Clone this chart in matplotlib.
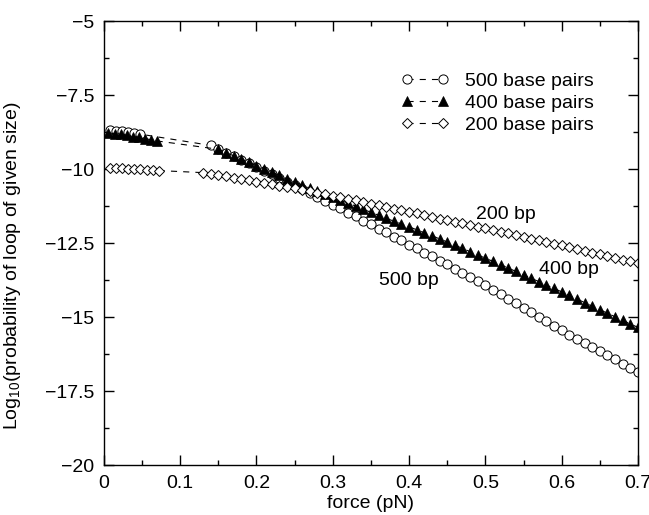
import matplotlib
matplotlib.use("Agg")
import matplotlib.pyplot as plt
from matplotlib.ticker import FixedLocator, MultipleLocator, FixedFormatter

plt.rcParams["font.family"] = ["Liberation Sans", "DejaVu Sans"]
plt.rcParams["mathtext.default"] = "regular"

# Force values (pN) and log10 loop probabilities for each loop size
force_500 = [0.008, 0.016, 0.024, 0.032, 0.040, 0.048,
             0.14, 0.15, 0.16, 0.17, 0.18, 0.19, 0.20, 0.21, 0.22, 0.23,
             0.24, 0.25, 0.26, 0.27, 0.28, 0.29, 0.30, 0.31, 0.32, 0.33,
             0.34, 0.35, 0.36, 0.37, 0.38, 0.39, 0.40, 0.41, 0.42, 0.43,
             0.44, 0.45, 0.46, 0.47, 0.48, 0.49, 0.50, 0.51, 0.52, 0.53,
             0.54, 0.55, 0.56, 0.57, 0.58, 0.59, 0.60, 0.61, 0.62, 0.63,
             0.64, 0.65, 0.66, 0.67, 0.68, 0.69, 0.70]
logp_500 = [-8.68, -8.70, -8.72, -8.75, -8.78, -8.82,
            -9.20, -9.32, -9.44, -9.56, -9.68, -9.80, -9.93, -10.05, -10.18, -10.30,
            -10.43, -10.55, -10.68, -10.81, -10.94, -11.07, -11.20, -11.33, -11.47, -11.60,
            -11.74, -11.87, -12.01, -12.14, -12.28, -12.41, -12.55, -12.68, -12.82, -12.95,
            -13.09, -13.22, -13.36, -13.50, -13.65, -13.79, -13.93, -14.08, -14.23, -14.38,
            -14.53, -14.68, -14.83, -14.99, -15.14, -15.30, -15.45, -15.59, -15.73, -15.87,
            -16.01, -16.15, -16.29, -16.43, -16.57, -16.71, -16.85]

force_400 = [0.006, 0.014, 0.022, 0.030, 0.038, 0.046, 0.054, 0.062, 0.070,
             0.15, 0.16, 0.17, 0.18, 0.19, 0.20, 0.21, 0.22, 0.23,
             0.24, 0.25, 0.26, 0.27, 0.28, 0.29, 0.30, 0.31, 0.32, 0.33,
             0.34, 0.35, 0.36, 0.37, 0.38, 0.39, 0.40, 0.41, 0.42, 0.43,
             0.44, 0.45, 0.46, 0.47, 0.48, 0.49, 0.50, 0.51, 0.52, 0.53,
             0.54, 0.55, 0.56, 0.57, 0.58, 0.59, 0.60, 0.61, 0.62, 0.63,
             0.64, 0.65, 0.66, 0.67, 0.68, 0.69, 0.70]
logp_400 = [-8.78, -8.80, -8.83, -8.86, -8.90, -8.93, -8.97, -9.01, -9.05,
            -9.33, -9.44, -9.55, -9.66, -9.77, -9.88, -9.99, -10.10, -10.21,
            -10.33, -10.44, -10.54, -10.65, -10.75, -10.85, -10.95, -11.05, -11.15, -11.25,
            -11.36, -11.46, -11.56, -11.66, -11.76, -11.85, -11.95, -12.05, -12.15, -12.25,
            -12.36, -12.46, -12.57, -12.68, -12.79, -12.90, -13.01, -13.12, -13.23, -13.34,
            -13.46, -13.57, -13.69, -13.80, -13.92, -14.03, -14.15, -14.27, -14.39, -14.51,
            -14.63, -14.75, -14.87, -14.99, -15.11, -15.23, -15.35]

force_200 = [0.008, 0.016, 0.024, 0.032, 0.040, 0.048, 0.056, 0.064, 0.072,
             0.13, 0.14, 0.15, 0.16, 0.17, 0.18, 0.19, 0.20, 0.21, 0.22, 0.23,
             0.24, 0.25, 0.26, 0.27, 0.28, 0.29, 0.30, 0.31, 0.32, 0.33,
             0.34, 0.35, 0.36, 0.37, 0.38, 0.39, 0.40, 0.41, 0.42, 0.43,
             0.44, 0.45, 0.46, 0.47, 0.48, 0.49, 0.50, 0.51, 0.52, 0.53,
             0.54, 0.55, 0.56, 0.57, 0.58, 0.59, 0.60, 0.61, 0.62, 0.63,
             0.64, 0.65, 0.66, 0.67, 0.68, 0.69, 0.70]
logp_200 = [-9.96, -9.97, -9.98, -9.99, -10.00, -10.01, -10.02, -10.03, -10.05,
            -10.12, -10.16, -10.20, -10.25, -10.29, -10.33, -10.38, -10.42, -10.47, -10.51, -10.56,
            -10.60, -10.65, -10.70, -10.75, -10.80, -10.85, -10.90, -10.95, -11.01, -11.06,
            -11.12, -11.17, -11.23, -11.28, -11.34, -11.39, -11.45, -11.50, -11.56, -11.61,
            -11.67, -11.72, -11.78, -11.83, -11.89, -11.94, -12.00, -12.06, -12.12, -12.17,
            -12.23, -12.29, -12.35, -12.41, -12.46, -12.52, -12.58, -12.64, -12.70, -12.76,
            -12.82, -12.88, -12.94, -13.00, -13.06, -13.12, -13.18]

x_ticks = [0, 0.1, 0.2, 0.3, 0.4, 0.5, 0.6, 0.7]
x_tick_labels = ["0", "0.1", "0.2", "0.3", "0.4", "0.5", "0.6", "0.7"]
y_ticks = [-20, -17.5, -15, -12.5, -10, -7.5, -5]
y_tick_labels = ["\u221220", "\u221217.5", "\u221215", "\u221212.5", "\u221210", "\u22127.5", "\u22125"]

series_labels = ["500 base pairs", "400 base pairs", "200 base pairs"]

fig = plt.figure(figsize=(6.49, 5.15), dpi=100)
ax = fig.add_axes([0.160, 0.097, 0.823, 0.862])

line_kw = dict(color="black", linewidth=0.8, linestyle=(0, (5.5, 5.5)))
ax.plot(force_500, logp_500, marker="o", markersize=6.6, markerfacecolor="white",
        markeredgecolor="black", markeredgewidth=0.7, label=series_labels[0], **line_kw)
ax.plot(force_400, logp_400, marker="^", markersize=7.2, markerfacecolor="black",
        markeredgecolor="black", markeredgewidth=0.5, label=series_labels[1], **line_kw)
ax.plot(force_200, logp_200, marker="D", markersize=4.8, markerfacecolor="white",
        markeredgecolor="black", markeredgewidth=0.7, label=series_labels[2], **line_kw)

ax.set_xlim(0, 0.7)
ax.set_ylim(-20, -5)
ax.xaxis.set_major_locator(FixedLocator(x_ticks))
ax.xaxis.set_major_formatter(FixedFormatter(x_tick_labels))
ax.xaxis.set_minor_locator(MultipleLocator(0.05))
ax.yaxis.set_major_locator(FixedLocator(y_ticks))
ax.yaxis.set_major_formatter(FixedFormatter(y_tick_labels))
ax.yaxis.set_minor_locator(MultipleLocator(1.25))

ax.tick_params(which="both", direction="in", top=True, right=True, labelsize=14, width=1.0)
ax.tick_params(which="major", length=7, pad=7)
ax.tick_params(which="minor", length=3.5)
for s in ax.spines.values():
    s.set_linewidth(1.0)

ax.set_xlabel("force (pN)", fontsize=14, labelpad=2)
ax.set_ylabel("Log$_{10}$(probability of loop of given size)", fontsize=14)
ax.yaxis.set_label_coords(-0.152, 0.45)

ax.text(0.527, -11.55, "200 bp", fontsize=14, ha="center", va="center")
ax.text(0.61, -13.4, "400 bp", fontsize=14, ha="center", va="center")
ax.text(0.40, -13.75, "500 bp", fontsize=14, ha="center", va="center")

ax.legend(loc="upper left", bbox_to_anchor=(0.557, 0.885), frameon=False, fontsize=14,
          numpoints=2, handlelength=2.45, handletextpad=0.8, labelspacing=0.22,
          borderaxespad=0, borderpad=0)

fig.savefig("out.png", dpi=100)
